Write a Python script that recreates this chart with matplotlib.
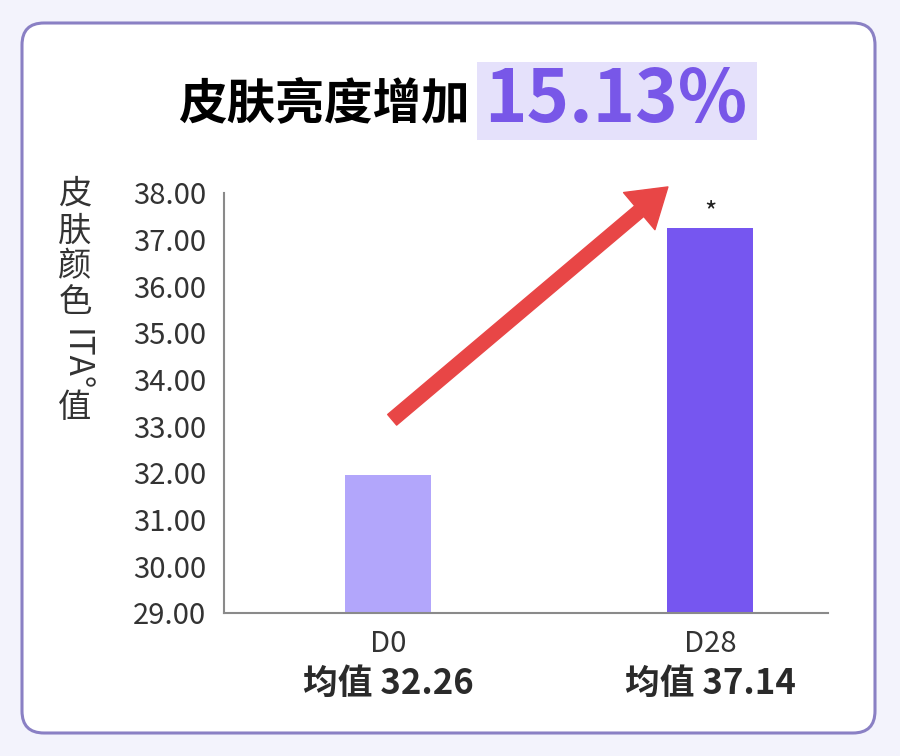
import matplotlib.pyplot as plt
from matplotlib.patches import FancyBboxPatch, Rectangle

plt.rcParams['font.family'] = ['Noto Sans CJK SC', 'DejaVu Sans']

# data
groups = ['D0', 'D28']
bar_values = [31.96, 37.25]
mean_labels = ['均值 32.26', '均值 37.14']
bar_colors = ['#b2a6fb', '#7656f0']
y_ticks = [29, 30, 31, 32, 33, 34, 35, 36, 37, 38]
title_text = '皮肤亮度增加'
increase_text = '15.13%'
ylabel_chars = ['皮', '肤', '颜', '色', 'ITA°', '值']

fig = plt.figure(figsize=(9, 7.56), dpi=100)
fig.patch.set_facecolor('#f3f3fc')

# background layer in pixel coordinates
bg = fig.add_axes([0, 0, 1, 1])
bg.set_xlim(0, 900)
bg.set_ylim(756, 0)
bg.axis('off')
bg.add_patch(FancyBboxPatch((22, 23), 853, 710, boxstyle='round,pad=0,rounding_size=22',
                            facecolor='white', edgecolor='#8a80c4', linewidth=2.2))
bg.add_patch(Rectangle((477, 62), 280, 78, facecolor='#e5e1fb', edgecolor='none'))
bg.text(470, 104, title_text, ha='right', va='center', fontsize=35,
        fontweight='black', color='black')
bg.text(616, 101, increase_text, ha='center', va='center', fontsize=52,
        fontweight='bold', color='#7857e8')

# vertical y label
ylab_y = [194, 231, 267, 303, 360, 407]
for ch, yy in zip(ylabel_chars, ylab_y):
    rot = -90 if ch.startswith('I') else 0
    bg.text(75, yy, ch, ha='center', va='center', fontsize=24, color='#333333',
            rotation=rot)

ax = fig.add_axes([224 / 900, 1 - 613 / 756, 604 / 900, 420 / 756])
ax.patch.set_alpha(0)
x = list(range(len(groups)))
ax.bar(x, [v - 29 for v in bar_values], bottom=29, width=0.267, color=bar_colors)
ax.set_xlim(-0.51, 1.365)
ax.set_ylim(29, 38)
ax.set_yticks(y_ticks)
ax.set_yticklabels([f'{t:.2f}' for t in y_ticks], fontsize=21, color='#333333')
ax.set_xticks([])
ax.tick_params(axis='y', length=0, pad=13)
for s in ['top', 'right']:
    ax.spines[s].set_visible(False)
for s in ['left', 'bottom']:
    ax.spines[s].set_color('#8a8a8a')
    ax.spines[s].set_linewidth(1.5)

# group names and means under the axis
for xi, g, m in zip(x, groups, mean_labels):
    ax.annotate(g, xy=(xi, 29), xytext=(0, -22), textcoords='offset points',
                ha='center', va='center', fontsize=21, color='#333333',
                annotation_clip=False)
    ax.annotate(m, xy=(xi, 29), xytext=(0, -51), textcoords='offset points',
                ha='center', va='center', fontsize=25, fontweight='bold',
                color='#2a2a2a', annotation_clip=False)

# significance mark
ax.annotate('*', xy=(x[1], bar_values[1]), xytext=(0, 11), textcoords='offset points',
            ha='center', va='center', fontsize=19, color='#222222')

# red trend arrow
ax.annotate('', xy=(0.868, 38.13), xytext=(0.012, 33.14),
            arrowprops=dict(arrowstyle='simple,head_length=2.7,head_width=3.5,tail_width=1.0',
                            mutation_scale=10, color='#e84646', shrinkA=0, shrinkB=0),
            annotation_clip=False)

fig.savefig('out.png', dpi=100, facecolor=fig.get_facecolor())
